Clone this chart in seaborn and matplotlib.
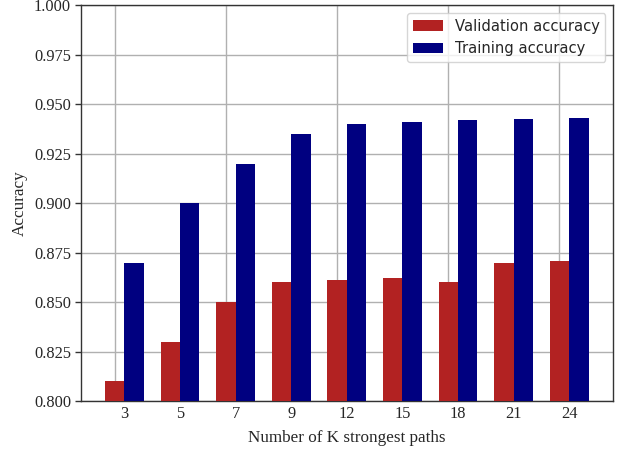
import matplotlib
matplotlib.use("Agg")
import matplotlib.pyplot as plt
import seaborn as sns
import pandas as pd
import numpy as np
from matplotlib.ticker import FormatStrFormatter, MultipleLocator

k_values = ["3", "5", "7", "9", "12", "15", "18", "21", "24"]
validation_acc = [0.810, 0.830, 0.850, 0.860, 0.861, 0.862, 0.860, 0.870, 0.871]
training_acc = [0.870, 0.900, 0.920, 0.935, 0.940, 0.941, 0.942, 0.9425, 0.943]
series_names = ["Validation accuracy", "Training accuracy"]
series_colors = ["#b22222", "#000080"]

df = pd.DataFrame({
    "K": k_values * 2,
    "Accuracy": validation_acc + training_acc,
    "Series": [series_names[0]] * len(k_values) + [series_names[1]] * len(k_values),
})

sns.set_style("white")
plt.rcParams["font.family"] = ["Liberation Serif", "DejaVu Serif"]

fig = plt.figure(figsize=(6.26, 4.49), dpi=100)
ax = fig.add_axes([0.129, 0.107, 0.850, 0.881])

sns.barplot(data=df, x="K", y="Accuracy", hue="Series", order=k_values,
            hue_order=series_names, palette=series_colors, width=0.7,
            linewidth=0, saturation=1, ax=ax, zorder=3)

n = len(k_values)
bw = 0.35
ax.set_xlim(-bw - 0.435, n - 1 + bw + 0.435)
ax.set_ylim(0.8, 1.0)
ax.yaxis.set_major_locator(MultipleLocator(0.025))
ax.yaxis.set_major_formatter(FormatStrFormatter("%.3f"))

# vertical gridlines every two groups (aligned with left bar centres)
ax.set_xticks([i - bw / 2 for i in range(0, n, 2)], minor=True)
ax.grid(True, which="major", axis="y", color="#b0b0b0", linewidth=1, zorder=0)
ax.grid(True, which="minor", axis="x", color="#b0b0b0", linewidth=1, zorder=0)
ax.set_axisbelow(True)

ax.tick_params(axis="x", which="both", length=0, labelsize=11.8, pad=3.5)
ax.tick_params(axis="y", length=4, width=1, labelsize=11.8, pad=3,
               direction="out", left=True, color="#333333")

for s in ax.spines.values():
    s.set_color("#333333")
    s.set_linewidth(1)

ax.set_xlabel("Number of K strongest paths", fontsize=12.3, labelpad=6)
ax.set_ylabel("Accuracy", fontsize=12.3, labelpad=4.5)

leg = ax.legend(loc="upper right",
                prop={"family": "DejaVu Sans", "size": 10.6},
                frameon=True, fancybox=True, framealpha=0.8, edgecolor="#cccccc")

fig.savefig("out.png", dpi=100)
